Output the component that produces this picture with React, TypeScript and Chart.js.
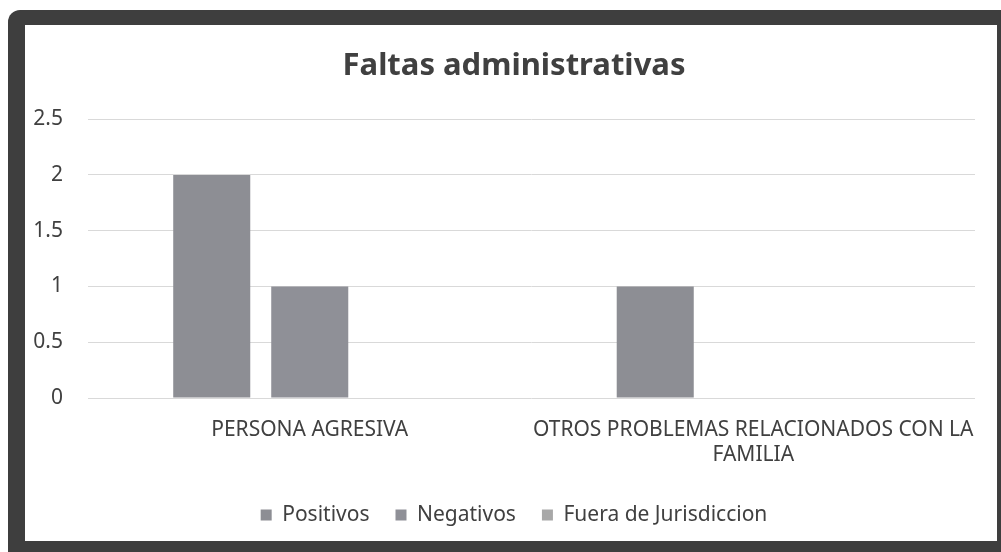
import React, { useEffect, useRef } from "react";
import { Chart, registerables } from "chart.js";

Chart.register(...registerables);

const categories: (string | string[])[] = [
  "PERSONA AGRESIVA",
  ["OTROS PROBLEMAS RELACIONADOS CON LA", "FAMILIA"],
];
const seriesNames = ["Positivos", "Negativos", "Fuera de Jurisdiccion"];
const positivos = [2, 1];
const negativos = [1, 0];
const fueraDeJurisdiccion = [0, 0];
const yMin = 0;
const yMax = 2.5;
const yStep = 0.5;
const titleText = "Faltas administrativas";

const FONT = "'Noto Sans', 'Open Sans', sans-serif";
const TEXT = "#404040";

export default function App() {
  const ref = useRef<HTMLCanvasElement | null>(null);

  useEffect(() => {
    document.body.style.margin = "0";
    const ctx = ref.current!;
    const chart = new Chart(ctx, {
      type: "bar",
      data: {
        labels: categories,
        datasets: [
          { label: seriesNames[0], data: positivos, backgroundColor: "#8d8e94" },
          { label: seriesNames[1], data: negativos, backgroundColor: "#8f9097" },
          { label: seriesNames[2], data: fueraDeJurisdiccion, backgroundColor: "#a8a8a8" },
        ],
      },
      options: {
        animation: false,
        responsive: false,
        maintainAspectRatio: false,
        layout: { padding: { left: 33, right: 6, top: 0, bottom: 5.5 } },
        datasets: {
          bar: { categoryPercentage: 0.663, barPercentage: 0.786 },
        },
        scales: {
          x: {
            grid: { display: false, drawTicks: false },
            border: { display: false },
            ticks: {
              color: TEXT,
              font: { family: FONT, size: 21 },
              padding: 19,
              maxRotation: 0,
              autoSkip: false,
            },
            afterFit: (scale: any) => {
              scale.height = 80.5;
            },
          },
          y: {
            min: yMin,
            max: yMax,
            grid: { color: "#d9d9d9", lineWidth: 1, drawTicks: false },
            border: { display: false },
            ticks: {
              stepSize: yStep,
              color: TEXT,
              font: { family: FONT, size: 21 },
              padding: 25,
              callback: (v: any) => String(v),
            },
            afterFit: (scale: any) => {
              scale.width = 55;
            },
          },
          yRight: {
            position: "right",
            display: true,
            min: yMin,
            max: yMax,
            grid: { display: false, drawTicks: false },
            border: { display: false },
            ticks: { display: false },
            afterFit: (scale: any) => {
              scale.width = 20;
            },
          },
        },
        plugins: {
          title: {
            display: true,
            text: titleText,
            color: "#404040",
            font: { family: FONT, size: 31, weight: "bold" },
            padding: { top: 23, bottom: 34 },
          },
          legend: {
            position: "bottom",
            labels: {
              color: TEXT,
              font: { family: FONT, size: 21 },
              boxWidth: 11,
              boxHeight: 11,
              padding: 26,
            },
          },
          tooltip: { enabled: false },
        },
      },
    });
    return () => chart.destroy();
  }, []);

  return (
    <div style={{ position: "relative", width: 1001, height: 552, background: "#ffffff", overflow: "hidden" }}>
      <div
        style={{
          position: "absolute",
          left: 8,
          top: 10,
          width: 1010,
          height: 560,
          background: "#3e3e3e",
          borderTopLeftRadius: 12,
        }}
      />
      <div
        style={{
          position: "absolute",
          left: 25,
          top: 25,
          width: 972,
          height: 516,
          background: "#ffffff",
        }}
      />
      <canvas
        ref={ref}
        width={1001}
        height={516}
        style={{ display: "block", position: "absolute", left: 0, top: 25 }}
      />
    </div>
  );
}
